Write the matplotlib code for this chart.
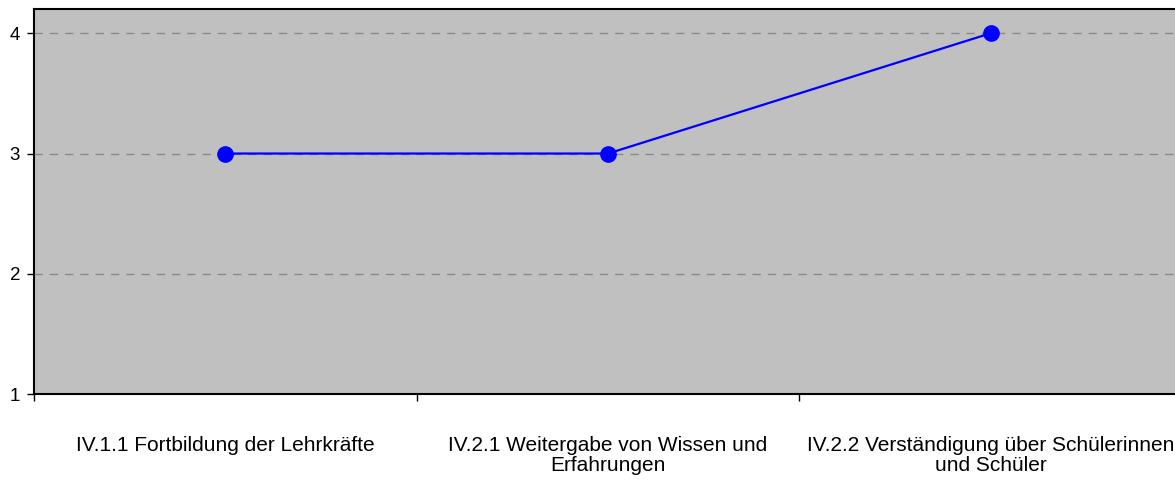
import matplotlib
matplotlib.use("Agg")
import matplotlib.pyplot as plt

# Daten
kategorien = [
    "IV.1.1 Fortbildung der Lehrkräfte",
    "IV.2.1 Weitergabe von Wissen und\nErfahrungen",
    "IV.2.2 Verständigung über Schülerinnen\nund Schüler",
]
werte = [3, 3, 4]
y_ticks = [1, 2, 3, 4]

plt.rcParams['font.family'] = ['Liberation Sans', 'DejaVu Sans']

fig = plt.figure(figsize=(11.75, 4.83), dpi=100)
ax = fig.add_axes([0.029, 0.184, 0.977, 0.797])
ax.set_facecolor('#c0c0c0')

x = list(range(len(werte)))
ax.plot(x, werte, color='#0000ff', lw=1.6, marker='o', markersize=11, zorder=3)

ax.set_xlim(-0.5, len(werte) - 0.5)
ax.set_ylim(1, 4.2)

# y-Achse
ax.set_yticks(y_ticks)
ax.set_yticklabels([str(v) for v in y_ticks], fontsize=13.5)
for v in y_ticks[1:]:
    ax.axhline(v, color='#8a8a8a', lw=1, ls=(0, (6, 5)), zorder=1)
ax.tick_params(axis='y', length=5, width=1, pad=5, direction='out')

# x-Achse: Striche an den Kategoriegrenzen, Beschriftung in der Mitte
ax.set_xticks([i - 0.5 for i in range(len(werte) + 1)])
ax.set_xticklabels([])
ax.set_xticks(x, minor=True)
ax.set_xticklabels(kategorien, minor=True, fontsize=15, linespacing=1.07)
ax.tick_params(axis='x', which='major', length=5, width=1, direction='out')
ax.tick_params(axis='x', which='minor', length=0, pad=30)

for s in ['left', 'bottom', 'top']:
    ax.spines[s].set_linewidth(1.5)
    ax.spines[s].set_color('black')
ax.spines['right'].set_visible(False)

fig.savefig("out.png", dpi=100)
